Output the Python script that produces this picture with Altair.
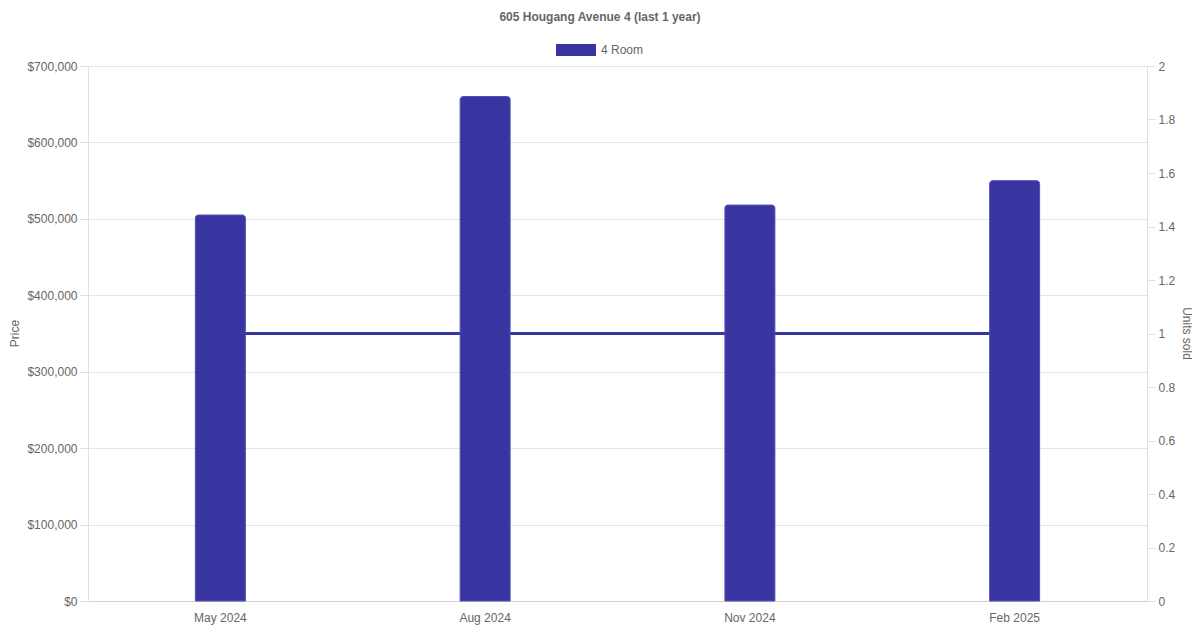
import altair as alt
import pandas as pd

months = ["May 2024", "Aug 2024", "Nov 2024", "Feb 2025"]
prices = [505000, 660000, 518000, 550000]
units = [1, 1, 1, 1]
flat_type = ["4 Room"] * 4
price_ticks = [0, 100000, 200000, 300000, 400000, 500000, 600000, 700000]
unit_ticks = [0, 0.2, 0.4, 0.6, 0.8, 1, 1.2, 1.4, 1.6, 1.8, 2]

df = pd.DataFrame({"month": months, "price": prices, "units": units, "type": flat_type})

PURPLE = "#3835a0"
GREY = "#666666"
FONT = "Liberation Sans"

base = alt.Chart(df)

x = alt.X("month:N", sort=months, title=None, scale=alt.Scale(paddingInner=0, paddingOuter=0),
          axis=alt.Axis(labelAngle=0, ticks=False, grid=False, labelPadding=11, domainColor="#d0d0d0",
                        labelColor=GREY, labelFontSize=12, labelFont=FONT))

line = base.mark_line(color=PURPLE, strokeWidth=3).encode(
    x=x,
    y=alt.Y("units:Q", title="Units sold", scale=alt.Scale(domain=[0, 2]),
            axis=alt.Axis(orient="right", grid=False, values=unit_ticks, labelOverlap=False,
                          format="~g", tickSize=8, tickColor="#e0e0e0", domainColor="#e0e0e0",
                          labelColor=GREY, labelFontSize=12, labelFont=FONT, labelPadding=3,
                          titleColor=GREY, titleFontSize=12, titleFont=FONT, titleFontWeight="normal",
                          titleX=39, titleY=267, titleAngle=90, titleAlign="center", titleBaseline="middle")),
)

bars = base.mark_bar(size=50, color=PURPLE, stroke="#4c48b4", strokeWidth=1,
                     cornerRadiusTopLeft=3, cornerRadiusTopRight=3).encode(
    x=x,
    y=alt.Y("price:Q", title="Price", scale=alt.Scale(domain=[0, 700000]),
            axis=alt.Axis(orient="left", format="$,.0f", values=price_ticks, labelOverlap=False,
                          grid=True, gridColor="#e5e5e5", tickSize=8, tickColor="#e0e0e0", domainColor="#e0e0e0",
                          labelColor=GREY, labelFontSize=12, labelFont=FONT, labelPadding=3,
                          titleColor=GREY, titleFontSize=12, titleFont=FONT, titleFontWeight="normal",
                          titleX=-74, titleY=267, titleAngle=270, titleAlign="center", titleBaseline="middle")),
    color=alt.Color("type:N", scale=alt.Scale(range=[PURPLE]),
                    legend=alt.Legend(title=None, orient="none", legendX=468, legendY=-36, padding=0,
                                      symbolType="M-1,-0.3H1V0.3H-1Z", symbolSize=1600,
                                      symbolStrokeWidth=0, labelColor=GREY, labelFontSize=12,
                                      labelFont=FONT, labelOffset=5)),
)

chart = alt.layer(line, bars).resolve_scale(y="independent").properties(
    width=1059,
    height=535,
    autosize=alt.AutoSizeParams(type="none"),
    padding={"left": 80, "top": 58, "right": 45, "bottom": 24},
    title=alt.TitleParams("605 Hougang Avenue 4 (last 1 year)", font=FONT, fontSize=12,
                          fontWeight="bold", color=GREY, anchor="middle", frame="bounds", offset=6),
).configure_view(stroke=None)

chart.save("out.html", embed_options={"renderer": "svg", "actions": False})
